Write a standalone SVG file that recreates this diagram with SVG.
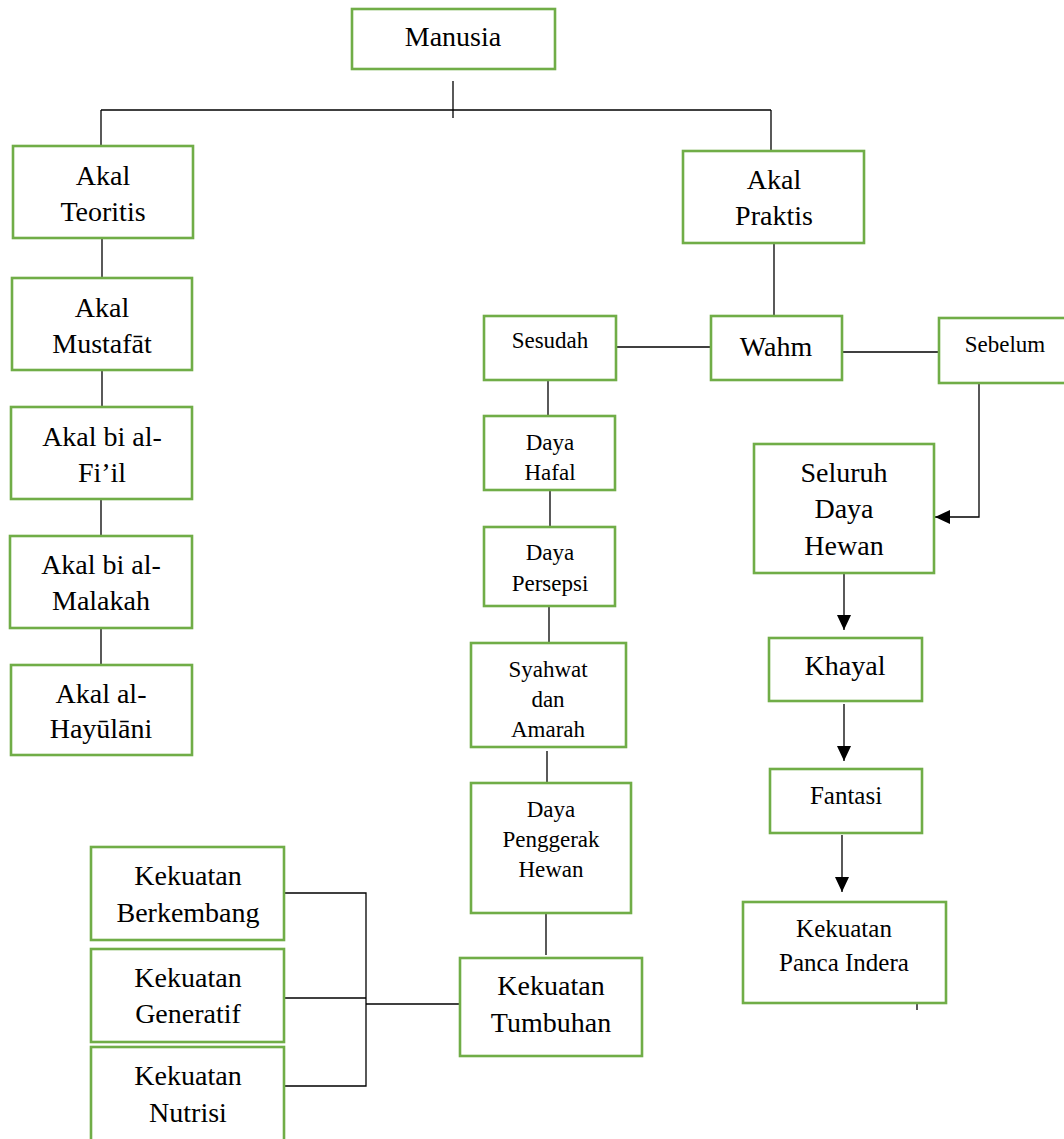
<svg xmlns="http://www.w3.org/2000/svg" width="1064" height="1139" viewBox="0 0 1064 1139">
<style>
.box{fill:#fff;stroke:#70AD47;stroke-width:2.6}
text{font-family:"Times New Roman","Liberation Serif","DejaVu Serif",serif;font-size:28px;fill:#000;text-anchor:middle}
.s{font-size:23px}
.m{font-size:25px}
.c{fill:none;stroke:#000;stroke-width:1.3}
</style>
<defs>
<marker id="ah" viewBox="0 0 15 14" refX="15" refY="7" markerWidth="15" markerHeight="14" markerUnits="userSpaceOnUse" orient="auto">
<path d="M0 0 L15 7 L0 14 z" fill="#000"/>
</marker>
</defs>
<rect width="1064" height="1139" fill="#fff"/>
<g id="connectors" class="c">
<path d="M453 81 V118"/>
<path d="M101 110 H771"/>
<path d="M101 110 V146"/>
<path d="M771 110 V151"/>
<path d="M102 238 V278"/>
<path d="M102 370 V407"/>
<path d="M101 499 V536"/>
<path d="M101 628 V665"/>
<path d="M774 243 V316"/>
<path d="M616 347 H711"/>
<path d="M842 352 H939"/>
<path d="M979 383 H1022"/>
<path d="M979 383 V517 H935" marker-end="url(#ah)"/>
<path d="M548 380 V416"/>
<path d="M550 490 V527"/>
<path d="M549 606 V643"/>
<path d="M547 751 V783"/>
<path d="M546 913 V955"/>
<path d="M284 893 H366 V1086 H284"/>
<path d="M284 998 H366"/>
<path d="M366 1004 H460"/>
<path d="M844 573 V630" marker-end="url(#ah)"/>
<path d="M844 704 V761" marker-end="url(#ah)"/>
<path d="M842 835 V892" marker-end="url(#ah)"/>
<path d="M917 1003 V1010"/>
</g>
<g id="manusia"><rect class="box" x="352" y="9" width="203" height="60"/><text x="453" y="46">Manusia</text></g>
<g id="akal-teoritis"><rect class="box" x="13" y="146" width="180" height="92"/><text x="103" y="185">Akal</text><text x="103" y="221">Teoritis</text></g>
<g id="akal-mustafat"><rect class="box" x="12" y="278" width="180" height="92"/><text x="102" y="317">Akal</text><text x="102" y="353">Mustafāt</text></g>
<g id="akal-fiil"><rect class="box" x="11" y="407" width="181" height="92"/><text x="102" y="446">Akal bi al-</text><text x="102" y="482">Fi’il</text></g>
<g id="akal-malakah"><rect class="box" x="10" y="536" width="182" height="92"/><text x="101" y="574">Akal bi al-</text><text x="101" y="610">Malakah</text></g>
<g id="akal-hayulani"><rect class="box" x="11" y="665" width="181" height="90"/><text x="101" y="703">Akal al-</text><text x="101" y="738">Hayūlāni</text></g>
<g id="akal-praktis"><rect class="box" x="683" y="151" width="181" height="92"/><text x="774" y="189">Akal</text><text x="774" y="225">Praktis</text></g>
<g id="wahm"><rect class="box" x="711" y="316" width="131" height="64"/><text x="776" y="356">Wahm</text></g>
<g id="sesudah"><rect class="box" x="484" y="316" width="132" height="64"/><text class="s" x="550" y="348">Sesudah</text></g>
<g id="sebelum"><rect class="box" x="939" y="318" width="130" height="65"/><text class="s" x="1005" y="352">Sebelum</text></g>
<g id="daya-hafal"><rect class="box" x="484" y="416" width="131" height="74"/><text class="s" x="550" y="450">Daya</text><text class="s" x="550" y="480">Hafal</text></g>
<g id="daya-persepsi"><rect class="box" x="484" y="527" width="131" height="79"/><text class="s" x="550" y="560">Daya</text><text class="s" x="550" y="591">Persepsi</text></g>
<g id="syahwat"><rect class="box" x="471" y="643" width="155" height="104"/><text class="s" x="548" y="677">Syahwat</text><text class="s" x="548" y="707">dan</text><text class="s" x="548" y="737">Amarah</text></g>
<g id="daya-penggerak"><rect class="box" x="471" y="783" width="160" height="130"/><text class="s" x="551" y="817">Daya</text><text class="s" x="551" y="847">Penggerak</text><text class="s" x="551" y="877">Hewan</text></g>
<g id="kekuatan-tumbuhan"><rect class="box" x="460" y="958" width="182" height="98"/><text x="551" y="995">Kekuatan</text><text x="551" y="1032">Tumbuhan</text></g>
<g id="kekuatan-berkembang"><rect class="box" x="91" y="847" width="193" height="93"/><text x="188" y="885">Kekuatan</text><text x="188" y="922">Berkembang</text></g>
<g id="kekuatan-generatif"><rect class="box" x="91" y="949" width="193" height="93"/><text x="188" y="987">Kekuatan</text><text x="188" y="1023">Generatif</text></g>
<g id="kekuatan-nutrisi"><rect class="box" x="91" y="1047" width="193" height="100"/><text x="188" y="1085">Kekuatan</text><text x="188" y="1122">Nutrisi</text></g>
<g id="seluruh-daya-hewan"><rect class="box" x="754" y="444" width="180" height="129"/><text x="844" y="482">Seluruh</text><text x="844" y="518">Daya</text><text x="844" y="555">Hewan</text></g>
<g id="khayal"><rect class="box" x="769" y="638" width="153" height="63"/><text x="845" y="675">Khayal</text></g>
<g id="fantasi"><rect class="box" x="770" y="769" width="152" height="64"/><text class="m" x="846" y="804">Fantasi</text></g>
<g id="panca-indera"><rect class="box" x="743" y="902" width="203" height="101"/><text class="m" x="844" y="937">Kekuatan</text><text class="m" x="844" y="971">Panca Indera</text></g>
</svg>
